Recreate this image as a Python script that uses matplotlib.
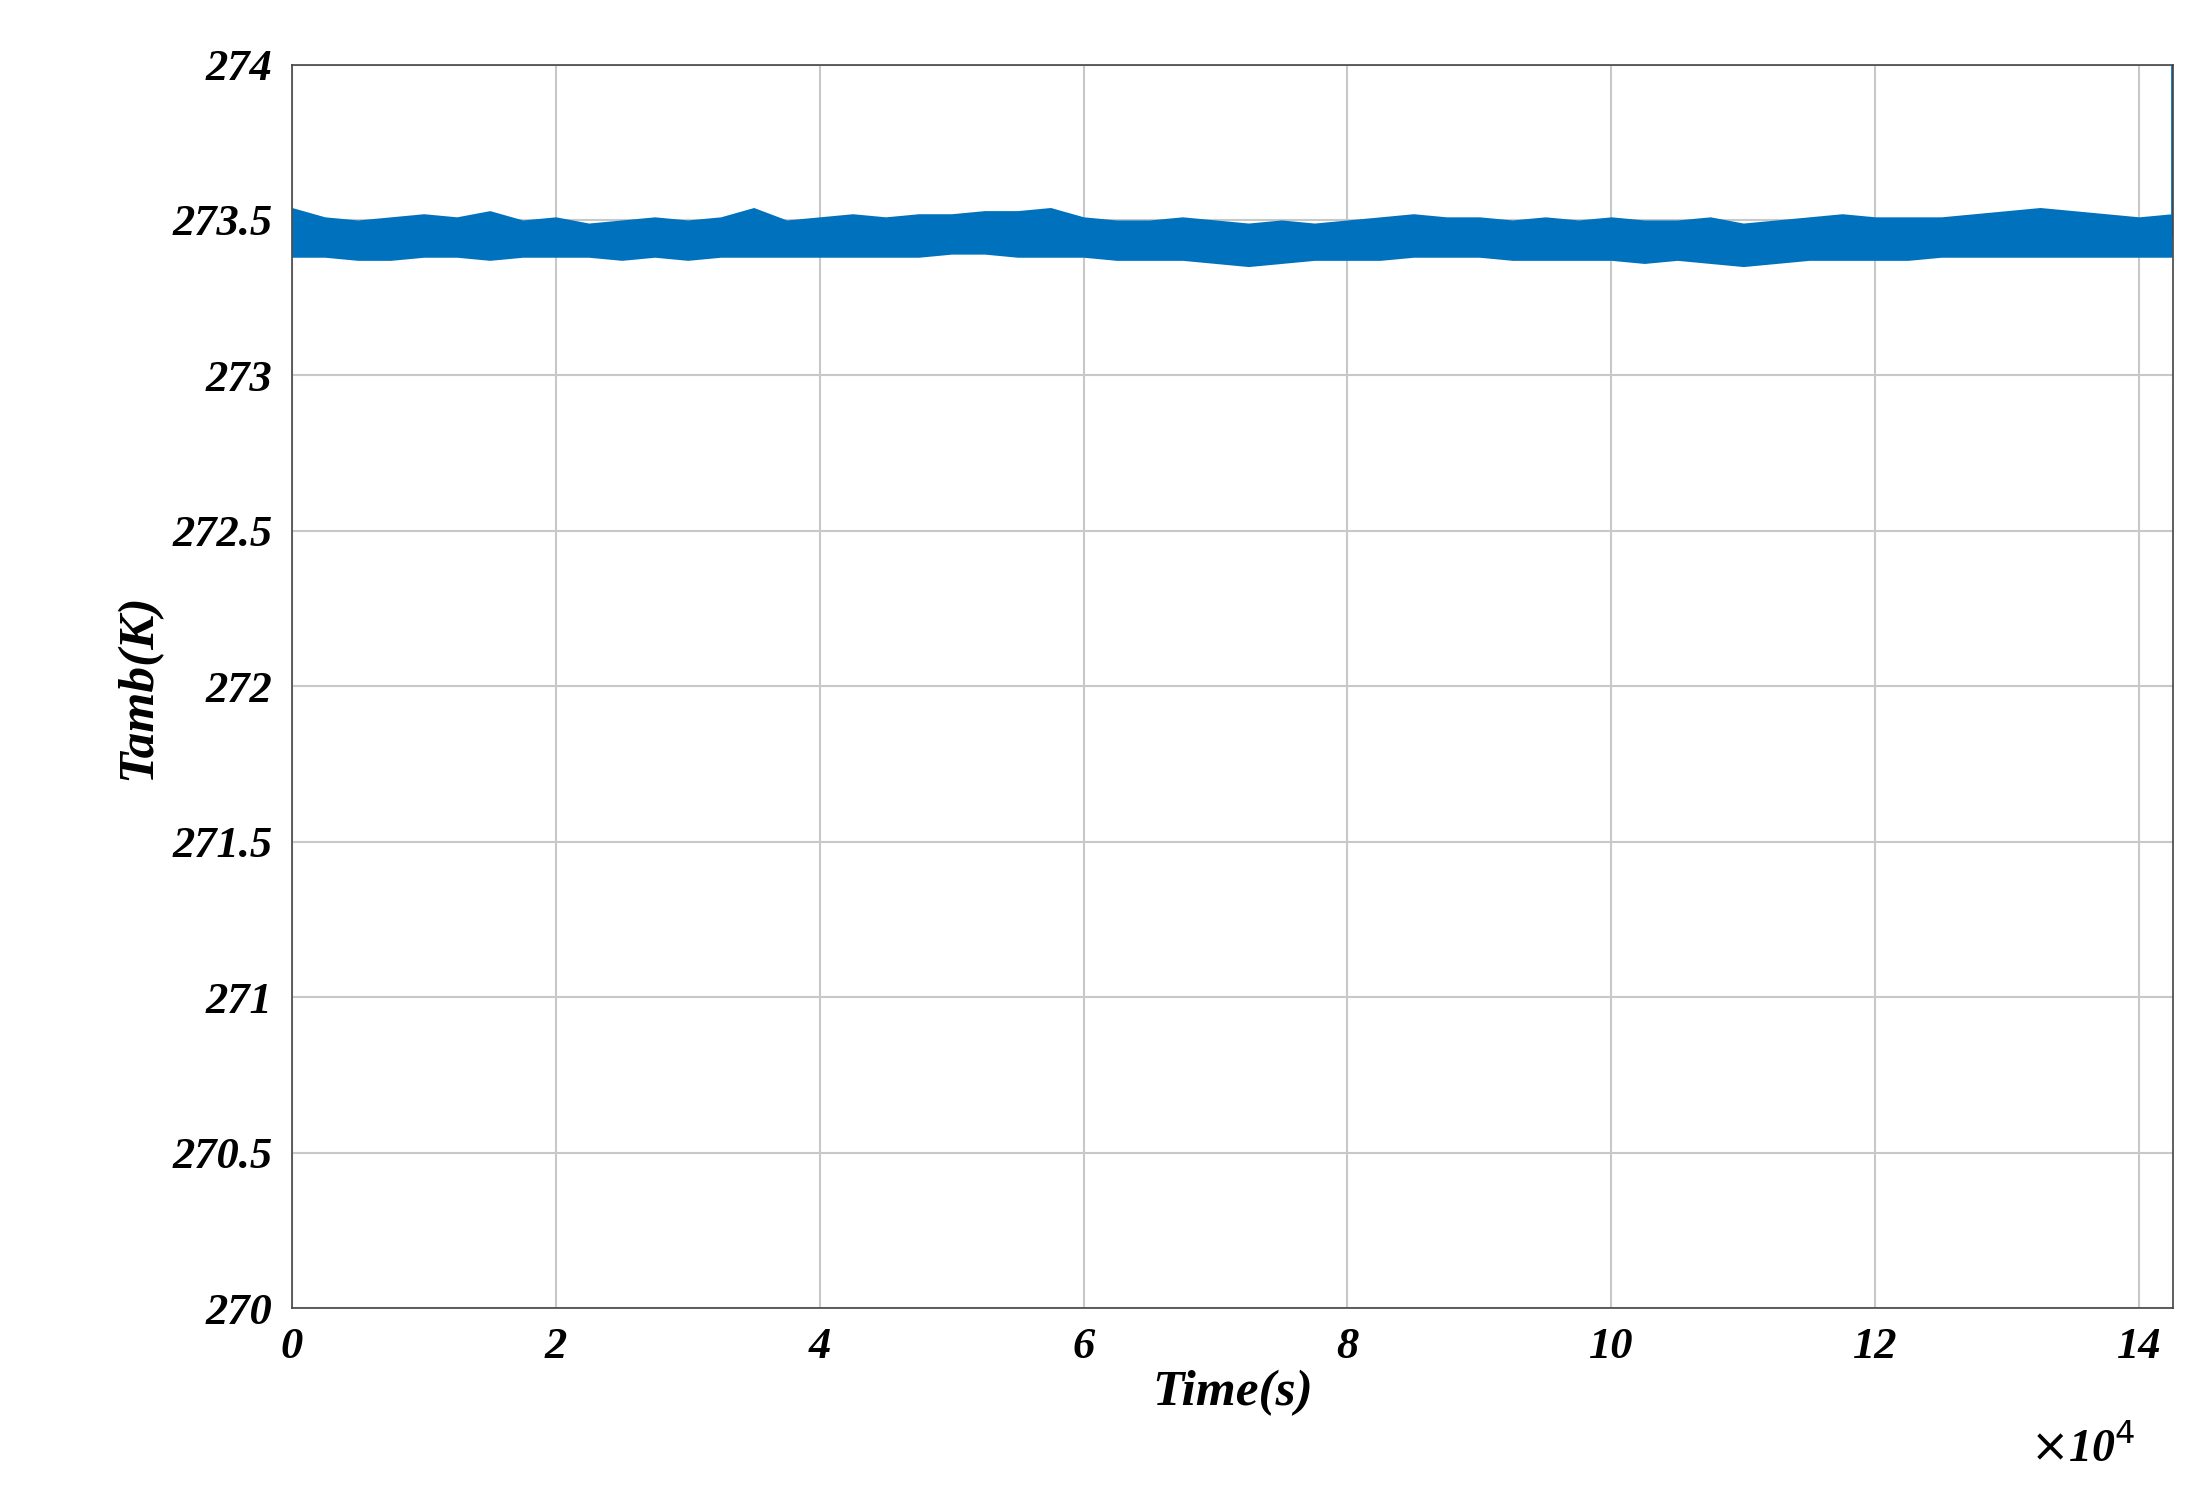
import matplotlib
matplotlib.use("Agg")
import matplotlib.pyplot as plt
import numpy as np

# envelope of the noisy band (time in s)
time_s = [0, 2500, 5000, 7500, 10000, 12500, 15000, 17500, 20000, 22500, 25000, 27500, 30000,
          32500, 35000, 37500, 40000, 42500, 45000, 47500, 50000, 52500, 55000, 57500, 60000,
          62500, 65000, 67500, 70000, 72500, 75000, 77500, 80000, 82500, 85000, 87500, 90000,
          92500, 95000, 97500, 100000, 102500, 105000, 107500, 110000, 112500, 115000, 117500,
          120000, 122500, 125000, 127500, 130000, 132500, 135000, 137500, 140000, 142500]
upper = [273.54, 273.51, 273.50, 273.51, 273.52, 273.51, 273.53, 273.50, 273.51, 273.49, 273.50,
         273.51, 273.50, 273.51, 273.54, 273.50, 273.51, 273.52, 273.51, 273.52, 273.52, 273.53,
         273.53, 273.54, 273.51, 273.50, 273.50, 273.51, 273.50, 273.49, 273.50, 273.49, 273.50,
         273.51, 273.52, 273.51, 273.51, 273.50, 273.51, 273.50, 273.51, 273.50, 273.50, 273.51,
         273.49, 273.50, 273.51, 273.52, 273.51, 273.51, 273.51, 273.52, 273.53, 273.54, 273.53,
         273.52, 273.51, 273.52]
lower = [273.38, 273.38, 273.37, 273.37, 273.38, 273.38, 273.37, 273.38, 273.38, 273.38, 273.37,
         273.38, 273.37, 273.38, 273.38, 273.38, 273.38, 273.38, 273.38, 273.38, 273.39, 273.39,
         273.38, 273.38, 273.38, 273.37, 273.37, 273.37, 273.36, 273.35, 273.36, 273.37, 273.37,
         273.37, 273.38, 273.38, 273.38, 273.37, 273.37, 273.37, 273.37, 273.36, 273.37, 273.36,
         273.35, 273.36, 273.37, 273.37, 273.37, 273.37, 273.38, 273.38, 273.38, 273.38, 273.38,
         273.38, 273.38, 273.38]
spike_t = [142500, 142500]
spike_v = [273.45, 274.0]

yticks = [270, 270.5, 271, 271.5, 272, 272.5, 273, 273.5, 274]
xticks = [0, 2, 4, 6, 8, 10, 12, 14]

fnt = dict(family="Liberation Serif", weight="bold", style="italic")
fig = plt.figure(figsize=(22.11, 15), dpi=100)
ax = fig.add_axes([0.132, 0.128, 0.851, 0.829])
ax.set_axisbelow(True)
col = "#0072BD"
ax.fill_between(time_s, lower, upper, color=col, lw=0, zorder=2)
ax.plot(spike_t, spike_v, color=col, lw=2, zorder=2)
ax.set_xlim(0, 142600)
ax.set_ylim(270, 274)
ax.set_xticks([t * 1e4 for t in xticks])
ax.set_xticklabels([str(t) for t in xticks], fontsize=32, **fnt)
ax.set_yticks(yticks)
ax.set_yticklabels([("%g" % v) for v in yticks], fontsize=32, **fnt)
ax.grid(True, color="#c8c8c8", lw=1.5, zorder=0)
ax.tick_params(length=0, pad=14)
for s in ax.spines.values():
    s.set_color("#444444"); s.set_linewidth(1.2)
ax.set_xlabel("Time(s)", fontsize=37, labelpad=2, **fnt)
ax.set_ylabel("Tamb(K)", fontsize=37, labelpad=8, **fnt)
fig.text(0.918, 0.025, r"$\times$10$^4$", fontsize=33, **fnt)
fig.savefig("out.png", dpi=100)
